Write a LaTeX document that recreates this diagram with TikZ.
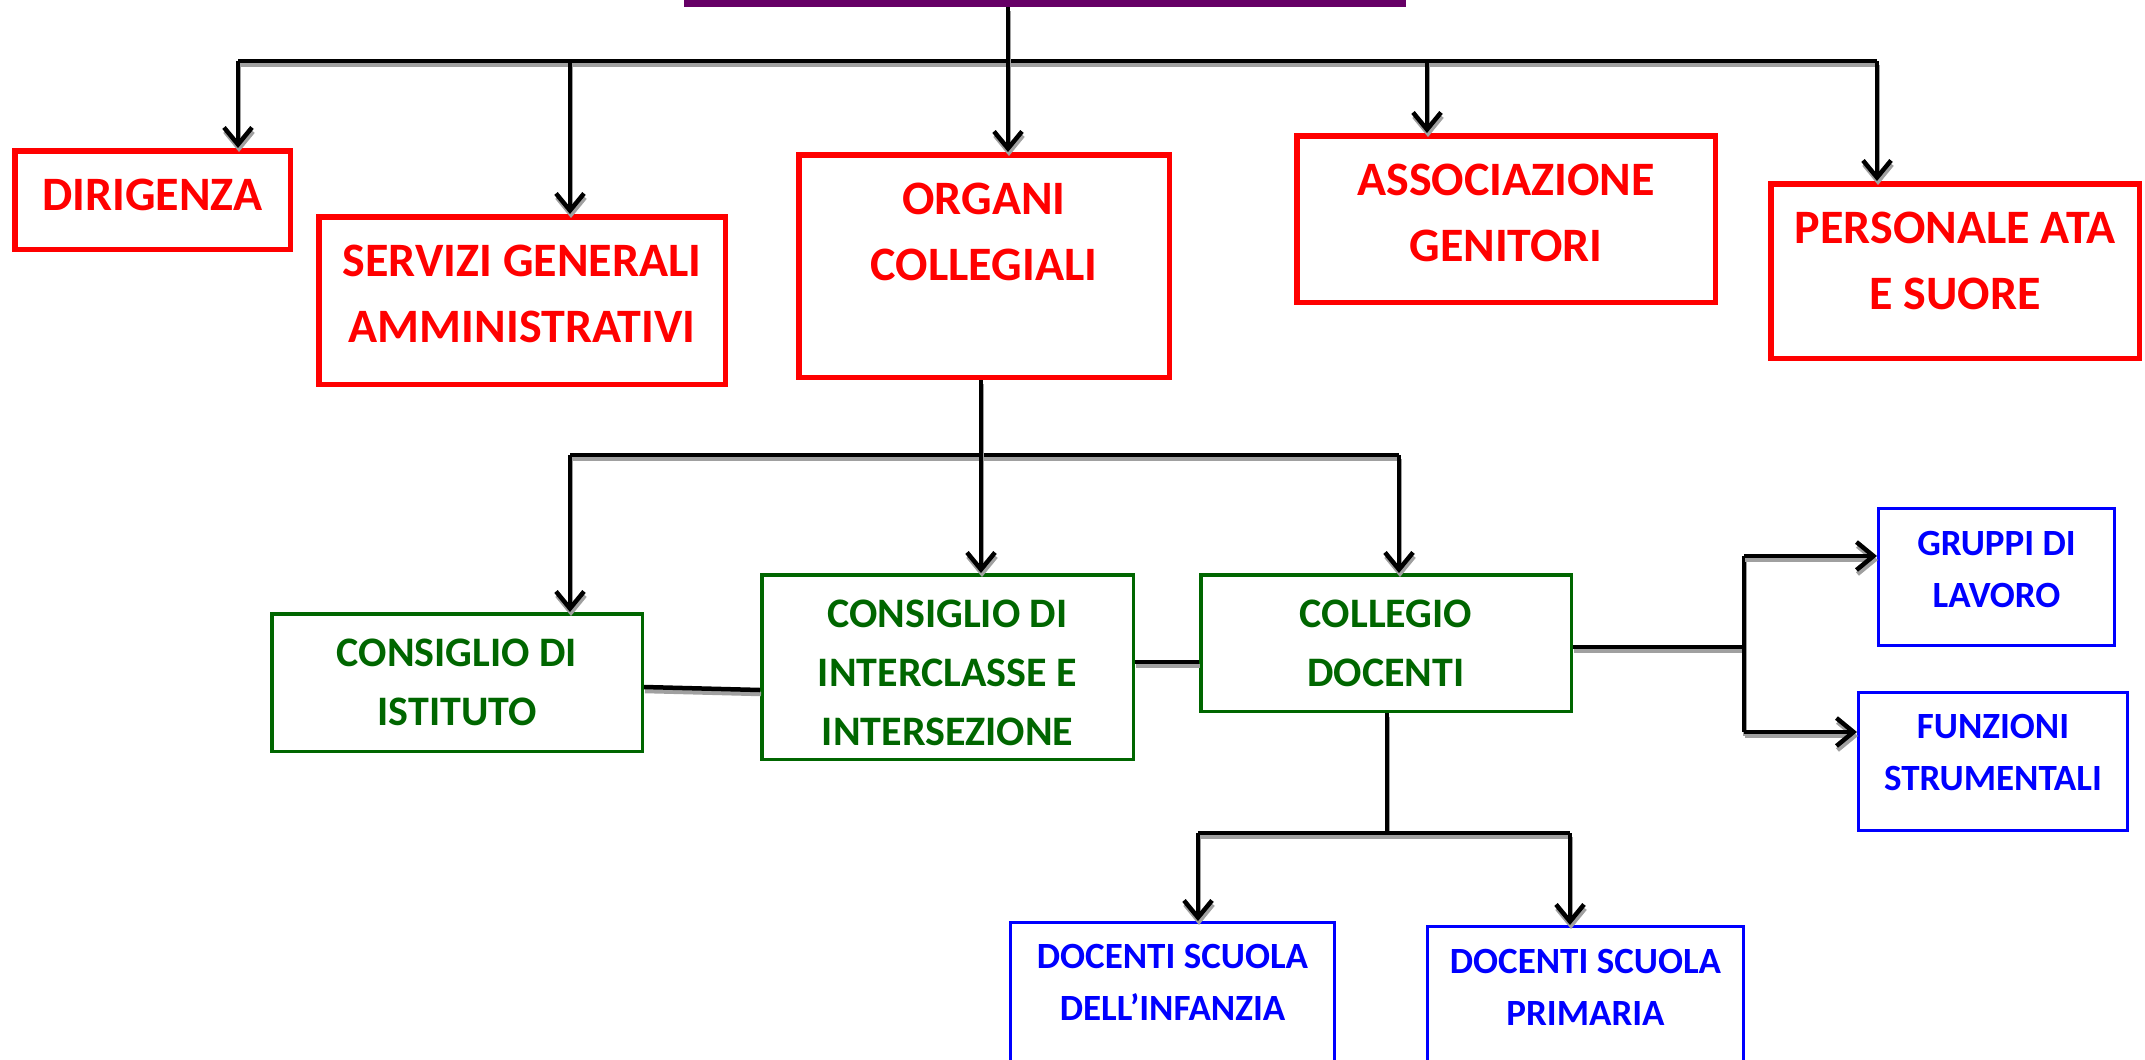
\documentclass[tikz,border=0pt]{standalone}
\usepackage{fontspec}
\setmainfont{Carlito}
\usetikzlibrary{arrows.meta}
\definecolor{cred}{RGB}{255,0,0}
\definecolor{cgreen}{RGB}{0,102,0}
\definecolor{cblue}{RGB}{0,0,255}
\definecolor{cpurple}{RGB}{102,0,102}
\definecolor{shade}{RGB}{160,160,160}
\begin{document}
\begin{tikzpicture}[x=1pt,y=-1pt,
  box/.style={draw, rectangle, inner sep=0pt},
  redbox/.style={box, draw=cred, line width=5.5pt},
  greenbox/.style={box, draw=cgreen, line width=3.5pt},
  bluebox/.style={box, draw=cblue, line width=3pt},
  redtxt/.style={text=cred, font=\fontsize{48}{66}\selectfont\bfseries, align=center, inner sep=0pt},
  greentxt/.style={text=cgreen, font=\fontsize{42}{59}\selectfont\bfseries, align=center, inner sep=0pt},
  bluetxt/.style={text=cblue, font=\fontsize{37}{52}\selectfont\bfseries, align=center, inner sep=0pt},
  conn/.style={line width=4.5pt, preaction={draw=shade, line width=4.5pt, transform canvas={xshift=1pt,yshift=-4pt}}},
  arr/.style={conn, -{Straight Barb[length=17pt,width=28pt]}},
]
\useasboundingbox (0,0) rectangle (2145,1060);

% root (cut off at top)
\node[box, draw=cpurple, line width=7pt, minimum width=715, minimum height=200] (root) at (1045,-96.5) {};

% red boxes
\node[redbox, minimum width=275.5, minimum height=98.5] (dir) at (152.5,200) {};
\node[redtxt] (dirT) at (152.5,195) {DIRIGENZA};
\node[redbox, minimum width=406.5, minimum height=167.5] (serv) at (522,300.5) {};
\node[redtxt] (servT) at (522,294) {SERVIZI GENERALI\\AMMINISTRATIVI};
\node[redbox, minimum width=370.5, minimum height=222.5] (org) at (984,266) {};
\node[redtxt] (orgT) at (984,232) {ORGANI\\COLLEGIALI};
\node[redbox, minimum width=418.5, minimum height=166.5] (assoc) at (1506,219) {};
\node[redtxt] (assocT) at (1506,212.5) {ASSOCIAZIONE\\GENITORI};
\node[redbox, minimum width=368.5, minimum height=174.5] (pers) at (1955,271) {};
\node[redtxt] (persT) at (1955,260.5) {PERSONALE ATA\\E SUORE};

% green boxes
\node[greenbox, minimum width=370.5, minimum height=137.5] (ist) at (457,682.5) {};
\node[greentxt] (istT) at (457,682.5) {CONSIGLIO DI\\ISTITUTO};
\node[greenbox, minimum width=371.5, minimum height=184.5] (inter) at (947.5,667) {};
\node[greentxt] (interT) at (947.5,672.5) {CONSIGLIO DI\\INTERCLASSE E\\INTERSEZIONE};
\node[greenbox, minimum width=370.5, minimum height=136.5] (coll) at (1386,643) {};
\node[greentxt] (collT) at (1386,643) {COLLEGIO\\DOCENTI};

% blue boxes
\node[bluebox, minimum width=236, minimum height=137] (grup) at (1996.5,577) {};
\node[bluetxt] (grupT) at (1996.5,569) {GRUPPI DI\\LAVORO};
\node[bluebox, minimum width=269, minimum height=138] (funz) at (1993,761.5) {};
\node[bluetxt] (funzT) at (1993,752.5) {FUNZIONI\\STRUMENTALI};
\node[bluebox, minimum width=324, minimum height=156] (inf) at (1172.5,1000.5) {};
\node[bluetxt] (infT) at (1172.5,982.5) {DOCENTI SCUOLA\\DELL’INFANZIA};
\node[bluebox, minimum width=316, minimum height=152] (prim) at (1585.5,1002.5) {};
\node[bluetxt] (primT) at (1585.5,987) {DOCENTI SCUOLA\\PRIMARIA};

% top level connectors
\coordinate (t0) at (238,61);
\coordinate (t1) at (570,61);
\coordinate (t2) at (1008,61);
\coordinate (t3) at (1427,61);
\coordinate (t4) at (1877,61);
\draw[conn] (t0) -- (t4);
\draw[arr] (t0) -- (t0 |- dir.north);
\draw[arr] (t1) -- (t1 |- serv.north);
\draw[arr] (root.south -| t2) -- (t2 |- org.north);
\draw[arr] (t3) -- (t3 |- assoc.north);
\draw[arr] (t4) -- (t4 |- pers.north);

% organi collegiali
\coordinate (m0) at (570,455);
\coordinate (m1) at (981,455);
\coordinate (m2) at (1399,455);
\draw[conn] (m0) -- (m2);
\draw[arr] (m0) -- (m0 |- ist.north);
\draw[arr] (org.south -| m1) -- (m1 |- inter.north);
\draw[arr] (m2) -- (m2 |- coll.north);

% side links
\coordinate (c1) at (0,687);
\coordinate (c1b) at (0,690);
\coordinate (c2) at (0,662);
\draw[conn] (ist.east |- c1) -- (inter.west |- c1b);
\draw[conn] (inter.east |- c2) -- (coll.west |- c2);

% collegio docenti right
\coordinate (r0) at (1744,647);
\coordinate (r1) at (1744,556);
\coordinate (r2) at (1744,732);
\draw[conn] (coll.east |- r0) -- (r0);
\draw[conn] (r1) -- (r2);
\draw[arr] (r1) -- (grup.west |- r1);
\draw[arr] (r2) -- (funz.west |- r2);

% collegio docenti down
\coordinate (d0) at (1387,833);
\coordinate (d1) at (1198,833);
\coordinate (d2) at (1570,833);
\draw[conn] (coll.south -| d0) -- (d0);
\draw[conn] (d1) -- (d2);
\draw[arr] (d1) -- (d1 |- inf.north);
\draw[arr] (d2) -- (d2 |- prim.north);
\end{tikzpicture}
\end{document}
